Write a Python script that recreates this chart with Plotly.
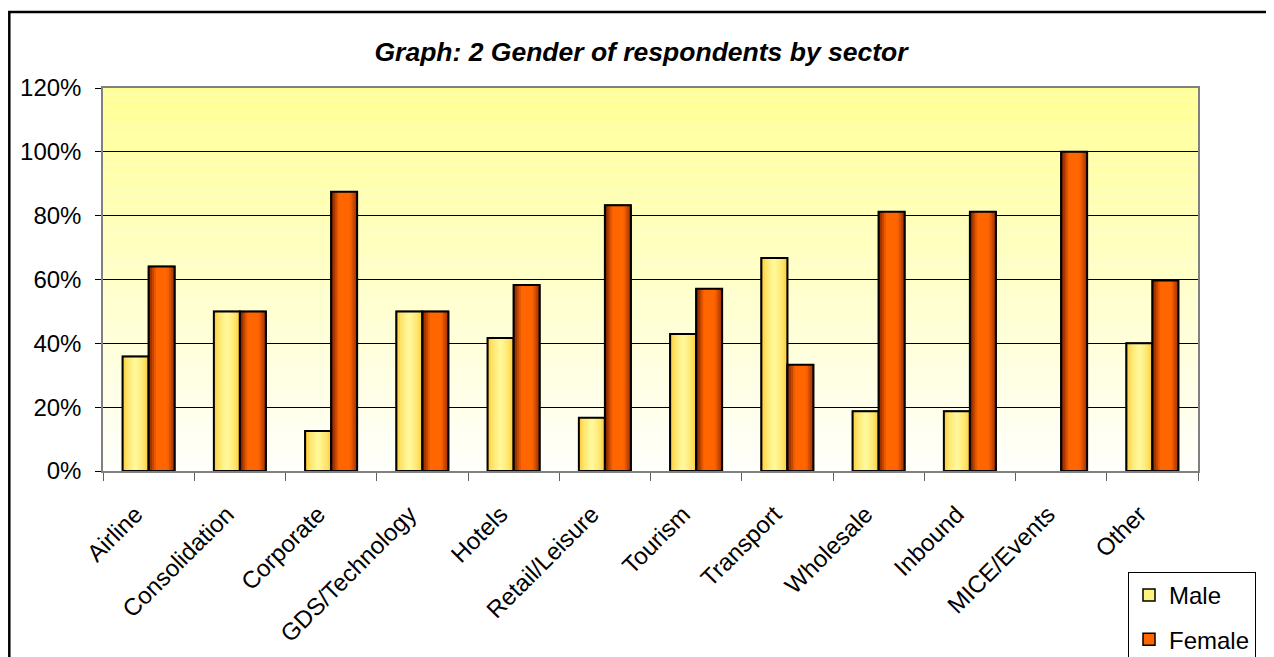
import numpy as np
import plotly.graph_objects as go

categories = ["Airline", "Consolidation", "Corporate", "GDS/Technology", "Hotels",
              "Retail/Leisure", "Tourism", "Transport", "Wholesale", "Inbound",
              "MICE/Events", "Other"]
male = [35.9, 50.0, 12.5, 50.0, 41.7, 16.7, 42.9, 66.7, 18.75, 18.75, 0.0, 40.0]
female = [64.1, 50.0, 87.5, 50.0, 58.3, 83.3, 57.1, 33.3, 81.25, 81.25, 100.0, 59.7]
y_ticks = [0, 20, 40, 60, 80, 100, 120]
y_tick_labels = ["0%", "20%", "40%", "60%", "80%", "100%", "120%"]

# page is rendered with an 8px body margin; compensate
OFF = 8
W, H = 1274, 657
L, R, T, B = 103 - OFF, 1198 - OFF, 88 - OFF, 471 - OFF
BW = 0.285
NS = 14


def lerp_color(stops, t):
    pos = [s[0] for s in stops]
    cols = np.array([s[1] for s in stops], dtype=float)
    c = [np.interp(t, pos, cols[:, i]) for i in range(3)]
    return "rgb(%d,%d,%d)" % tuple(int(round(v)) for v in c)


male_stops = [(0.0, (255, 200, 50)), (0.2, (255, 230, 110)), (0.5, (255, 250, 160)),
              (0.8, (255, 230, 110)), (1.0, (250, 200, 55))]
female_stops = [(0.0, (110, 25, 0)), (0.3, (255, 102, 0)), (0.72, (255, 102, 0)),
                (1.0, (150, 45, 0))]

fig = go.Figure()

series = [("Male", male, -BW, male_stops, "#FFF280"),
          ("Female", female, 0.0, female_stops, "#FF6600")]

for name, vals, off, stops, solid in series:
    lw = [1.5 if v > 0 else 0 for v in vals]
    fig.add_trace(go.Bar(x=categories, y=vals, name=name, width=BW, offset=off,
                         marker=dict(color=solid, line=dict(color="black", width=lw)),
                         legendgroup=name, hoverinfo="x+y"))
    for k in range(NS):
        t = (k + 0.5) / NS
        col = lerp_color(stops, t)
        fig.add_trace(go.Bar(x=categories, y=vals, width=BW / NS * 1.15,
                             offset=off + k * BW / NS,
                             marker=dict(color=col, line=dict(width=0)),
                             showlegend=False, hoverinfo="skip", legendgroup=name))
    fig.add_trace(go.Bar(x=categories, y=vals, width=BW, offset=off,
                         marker=dict(color="rgba(0,0,0,0)",
                                     line=dict(color="black", width=[2 if v > 0 else 0 for v in vals])),
                         showlegend=False, hoverinfo="skip", legendgroup=name))

shapes = []
NB = 60
for i in range(NB):
    y0 = 120 * i / NB
    y1 = 120 * (i + 1) / NB
    t = (i + 0.5) / NB
    g = lerp_color([(0, (255, 255, 252)), (1, (255, 255, 150))], t)
    shapes.append(dict(type="rect", xref="paper", yref="y", x0=0, x1=1, y0=y0, y1=y1,
                       fillcolor=g, line=dict(width=0), layer="below"))
pw, ph = R - L, B - T
shapes.append(dict(type="rect", xref="paper", yref="paper",
                   x0=(1.3 - L) / pw, x1=(1269 - OFF - L) / pw,
                   y0=(B - 680) / ph, y1=(B - (12 - OFF)) / ph,
                   line=dict(color="black", width=2.5), fillcolor="rgba(0,0,0,0)", layer="above"))

fig.update_layout(
    width=W, height=H,
    margin=dict(l=L, r=W - R, t=T, b=H - B, autoexpand=False),
    paper_bgcolor="white", plot_bgcolor="white",
    barmode="overlay",
    shapes=shapes,
    title=dict(text="<b><i>Graph: 2 Gender of respondents by sector</i></b>",
               x=(641 - OFF) / W, xanchor="center", y=1 - (52 - OFF) / H, yanchor="middle",
               font=dict(family="Liberation Sans, Arial", size=26.5, color="black")),
    font=dict(family="Liberation Sans, Arial", size=24, color="black"),
    legend=dict(x=(1128 - OFF - L) / pw, xanchor="left", y=(B - (572 - OFF)) / ph, yanchor="top",
                bgcolor="white", bordercolor="black", borderwidth=1,
                font=dict(size=24), traceorder="grouped", tracegroupgap=10),
    showlegend=True,
)
fig.update_xaxes(type="category", showgrid=False, showline=True, linecolor="#808080",
                 linewidth=1.5, mirror=True, ticks="outside", tickson="boundaries",
                 ticklen=8, tickcolor="#606060", tickangle=-45, automargin=False,
                 tickfont=dict(size=24), ticklabelstandoff=18, ticklabelshift=-13,
                 range=[-0.5, len(categories) - 0.5])
fig.update_yaxes(range=[0, 120], tickvals=y_ticks, ticktext=y_tick_labels,
                 showgrid=True, gridcolor="black", gridwidth=1, zeroline=False,
                 showline=True, linecolor="#808080", linewidth=1.5, mirror=True,
                 ticks="outside", ticklen=6, tickcolor="black", automargin=False,
                 tickfont=dict(size=24), ticklabelstandoff=9)

fig.write_html("out.html")
